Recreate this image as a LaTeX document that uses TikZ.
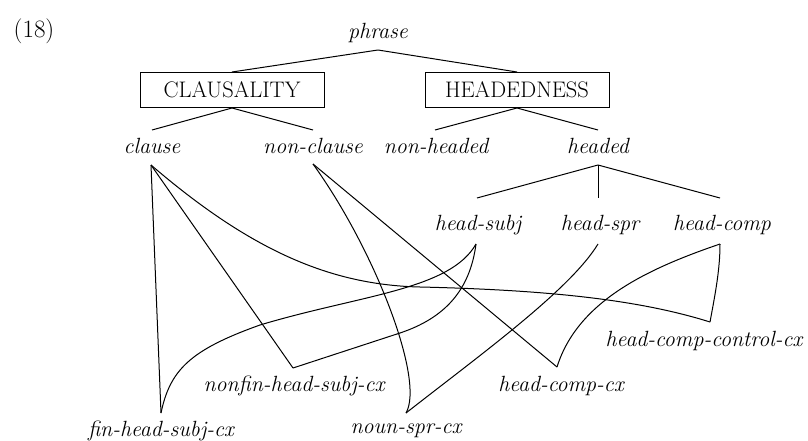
\documentclass[tikz,border=0pt]{standalone}
\usepackage{fontspec}
\begin{document}
\begin{tikzpicture}[x=1pt,y=-1pt,
  lab/.style={font=\fontsize{22}{26}\selectfont\itshape, inner sep=0pt, anchor=center},
  cat/.style={draw, line width=1pt, font=\fontsize{22.5}{26}\selectfont, minimum width=184pt, minimum height=35pt, inner sep=0pt},
  conn/.style={line width=1pt}]
\useasboundingbox (0,0) rectangle (808,441);
% labels
\node[font=\fontsize{25}{29}\selectfont, inner sep=0pt] (ex) at (34,31) {(18)};
\node[lab] (phrase) at (378,33) {phrase};
\node[cat] (claus) at (232,90) {CLAUSALITY};
\node[cat] (headd) at (517,90) {HEADEDNESS};
\node[lab] (clause) at (152,146) {clause};
\node[lab] (nonclause) at (313,146) {non-clause};
\node[lab] (nonheaded) at (436,146) {non-headed};
\node[lab] (headed) at (598,146) {headed};
\node[lab] (hsubj) at (478,225) {head-subj};
\node[lab] (hspr) at (600,225) {head-spr};
\node[lab] (hcomp) at (722,225) {head-comp};
\node[lab] (hcc) at (704,341) {head-comp-control-cx};
\node[lab] (nfhs) at (294,386) {nonfin-head-subj-cx};
\node[lab] (hcx) at (561,386) {head-comp-cx};
\node[lab] (fhs) at (161,431) {fin-head-subj-cx};
\node[lab] (nspr) at (406,431) {noun-spr-cx};
% attachment points
\coordinate (phrase-b) at (378,50);
\coordinate (clause-t) at (152,130);
\coordinate (clause-b) at (151,165);
\coordinate (nonclause-t) at (313,130);
\coordinate (nonclause-b) at (313,164);
\coordinate (nonheaded-t) at (435,130);
\coordinate (headed-t) at (598,130);
\coordinate (headed-b) at (598,165);
\coordinate (hsubj-t) at (477,198);
\coordinate (hsubj-b) at (476,244);
\coordinate (hspr-t) at (598,198);
\coordinate (hspr-b) at (598,244);
\coordinate (hcomp-t) at (720,198);
\coordinate (hcomp-b) at (720,244);
\coordinate (hcc-t) at (710,322);
\coordinate (nfhs-t) at (293,368);
\coordinate (hcx-t) at (557,367);
\coordinate (fhs-t) at (161,413);
\coordinate (nspr-t) at (406,413);
% tree lines
\draw[conn] (phrase-b) -- (claus.north);
\draw[conn] (phrase-b) -- (headd.north);
\draw[conn] (claus.south) -- (clause-t);
\draw[conn] (claus.south) -- (nonclause-t);
\draw[conn] (headd.south) -- (nonheaded-t);
\draw[conn] (headd.south) -- (headed-t);
\draw[conn] (headed-b) -- (hsubj-t);
\draw[conn] (headed-b) -- (hspr-t);
\draw[conn] (headed-b) -- (hcomp-t);
% multiple inheritance links
\draw[conn] (clause-b) -- (fhs-t);
\draw[conn] (clause-b) -- (nfhs-t);
\draw[conn] (clause-b) .. controls (250,250) and (330,285) .. (420,287)
  .. controls (550,290) and (640,300) .. (hcc-t);
\draw[conn] (hcc-t) .. controls (715,295) and (720,270) .. (hcomp-b);
\draw[conn] (fhs-t) .. controls (170,370) and (190,350) .. (260,325)
  .. controls (360,295) and (450,290) .. (hsubj-b);
\draw[conn] (nfhs-t) -- (400,333) .. controls (445,318) and (470,290) .. (hsubj-b);
\draw[conn] (hcomp-b) .. controls (650,268) and (578,300) .. (hcx-t);
\draw[conn] (nonclause-b) -- (hcx-t);
\draw[conn] (nonclause-b) .. controls (375,250) and (425,380) .. (nspr-t);
\draw[conn] (hspr-b) .. controls (570,290) and (480,355) .. (nspr-t);
\end{tikzpicture}
\end{document}
